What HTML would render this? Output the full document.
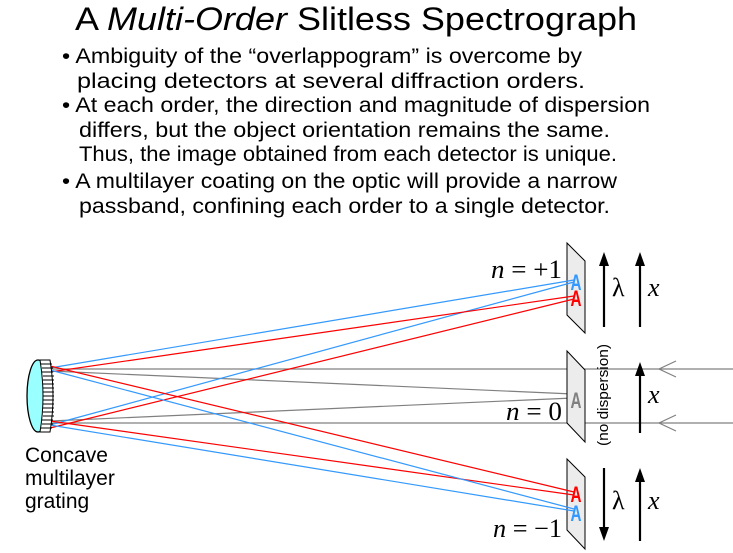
<!DOCTYPE html>
<html><head><meta charset="utf-8"><style>
html,body{margin:0;padding:0;background:#fff;}
svg{display:block;}
.s{font-family:"Liberation Sans",sans-serif;fill:#000;}
.m{font-family:"Liberation Serif",serif;fill:#000;}
</style></head><body>
<svg width="733" height="553" viewBox="0 0 733 553" xmlns="http://www.w3.org/2000/svg">
<text class="s" x="75" y="30" font-size="32" textLength="562" lengthAdjust="spacingAndGlyphs">A <tspan font-style="italic">Multi-Order</tspan> Slitless Spectrograph</text>
<g class="s" font-size="21">
<text x="62" y="63" textLength="520" lengthAdjust="spacingAndGlyphs">• Ambiguity of the “overlappogram” is overcome by</text>
<text x="77" y="88" textLength="508" lengthAdjust="spacingAndGlyphs">placing detectors at several diffraction orders.</text>
<text x="62" y="112" textLength="588" lengthAdjust="spacingAndGlyphs">• At each order, the direction and magnitude of dispersion</text>
<text x="79" y="137" textLength="531" lengthAdjust="spacingAndGlyphs">differs, but the object orientation remains the same.</text>
<text x="79" y="161" textLength="538" lengthAdjust="spacingAndGlyphs">Thus, the image obtained from each detector is unique.</text>
<text x="62" y="188" textLength="555" lengthAdjust="spacingAndGlyphs">• A multilayer coating on the optic will provide a narrow</text>
<text x="79" y="213" textLength="531" lengthAdjust="spacingAndGlyphs">passband, confining each order to a single detector.</text>
</g>
<g stroke="#808080" stroke-width="1.2" fill="none">
<line x1="50" y1="369" x2="733" y2="369"/>
<line x1="50" y1="423" x2="733" y2="423"/>
<line x1="50" y1="371" x2="573" y2="394"/>
<line x1="50" y1="421" x2="573" y2="398"/>
<polyline points="676,361 659,369 676,377"/>
<polyline points="676,415 659,423 676,431"/>
</g>
<g fill="#ececec" stroke="#000" stroke-width="1">
<polygon points="567,243 585,261 585,333 567,315"/>
<polygon points="567,351 585,370 585,442 567,423"/>
<polygon points="567,459 585,477 585,549 567,530"/>
</g>
<g fill="none" stroke-width="1.2">
<line x1="50" y1="368" x2="574" y2="280" stroke="#3399ff"/>
<line x1="50" y1="425" x2="574" y2="282" stroke="#3399ff"/>
<line x1="50" y1="372" x2="574" y2="296" stroke="#ff0000"/>
<line x1="50" y1="428" x2="574" y2="299" stroke="#ff0000"/>
<line x1="50" y1="366" x2="574" y2="492" stroke="#ff0000"/>
<line x1="50" y1="421" x2="574" y2="495" stroke="#ff0000"/>
<line x1="50" y1="370" x2="574" y2="509" stroke="#3399ff"/>
<line x1="50" y1="425" x2="574" y2="511" stroke="#3399ff"/>
</g>
<g font-family="Liberation Sans,sans-serif" font-size="22" text-anchor="middle" font-weight="bold">
<text x="576" y="290" fill="#3399ff" textLength="11" lengthAdjust="spacingAndGlyphs">A</text>
<text x="576" y="306" fill="#ff0000" textLength="11" lengthAdjust="spacingAndGlyphs">A</text>
<text x="576" y="408" fill="#808080" textLength="11" lengthAdjust="spacingAndGlyphs">A</text>
<text x="576" y="502" fill="#ff0000" textLength="11" lengthAdjust="spacingAndGlyphs">A</text>
<text x="576" y="521" fill="#3399ff" textLength="11" lengthAdjust="spacingAndGlyphs">A</text>
</g>
<ellipse cx="38" cy="396" rx="11" ry="36" fill="#99ffff" stroke="#000" stroke-width="1.3"/>
<path d="M40,360 L50,360 Q56,396 50,432 L40,432 Q46,396 40,360z" fill="#fff" stroke="#000" stroke-width="1"/>
<g stroke="#000" stroke-width="1">
<line x1="41" y1="364" x2="52" y2="364"/><line x1="42" y1="368" x2="53" y2="368"/>
<line x1="42" y1="372" x2="53" y2="372"/><line x1="43" y1="376" x2="54" y2="376"/>
<line x1="43" y1="380" x2="54" y2="380"/><line x1="43" y1="384" x2="54" y2="384"/>
<line x1="43" y1="388" x2="54" y2="388"/><line x1="43" y1="392" x2="54" y2="392"/>
<line x1="43" y1="396" x2="54" y2="396"/><line x1="43" y1="400" x2="54" y2="400"/>
<line x1="43" y1="404" x2="54" y2="404"/><line x1="43" y1="408" x2="54" y2="408"/>
<line x1="43" y1="412" x2="54" y2="412"/><line x1="43" y1="416" x2="54" y2="416"/>
<line x1="42" y1="420" x2="53" y2="420"/><line x1="42" y1="424" x2="53" y2="424"/>
<line x1="41" y1="428" x2="52" y2="428"/>
</g>
<g class="s" font-size="21">
<text x="25" y="462">Concave</text>
<text x="25" y="485">multilayer</text>
<text x="25" y="508">grating</text>
</g>
<g stroke="#000" stroke-width="2.2">
<line x1="604" y1="327" x2="604" y2="262"/>
<line x1="640" y1="327" x2="640" y2="262"/>
<line x1="640" y1="433" x2="640" y2="372"/>
<line x1="604" y1="468" x2="604" y2="530"/>
<line x1="640" y1="541" x2="640" y2="478"/>
</g>
<g fill="#000">
<polygon points="604,252 599,266 609,266"/>
<polygon points="640,252 635,266 645,266"/>
<polygon points="640,362 635,376 645,376"/>
<polygon points="604,541 599,527 609,527"/>
<polygon points="640,468 635,482 645,482"/>
</g>
<g class="m" font-size="26">
<text x="612" y="296">λ</text>
<text x="648" y="296" font-style="italic">x</text>
<text x="648" y="403" font-style="italic">x</text>
<text x="612" y="509">λ</text>
<text x="648" y="509" font-style="italic">x</text>
<text x="491" y="278" textLength="71" lengthAdjust="spacingAndGlyphs"><tspan font-style="italic">n</tspan> = +1</text>
<text x="506" y="420" textLength="56" lengthAdjust="spacingAndGlyphs"><tspan font-style="italic">n</tspan> = 0</text>
<text x="493" y="537" textLength="69" lengthAdjust="spacingAndGlyphs"><tspan font-style="italic">n</tspan> = −1</text>
</g>
<text class="s" font-size="15" transform="translate(608,446) rotate(-90)" textLength="102" lengthAdjust="spacingAndGlyphs">(no dispersion)</text>
</svg>
</body></html>
